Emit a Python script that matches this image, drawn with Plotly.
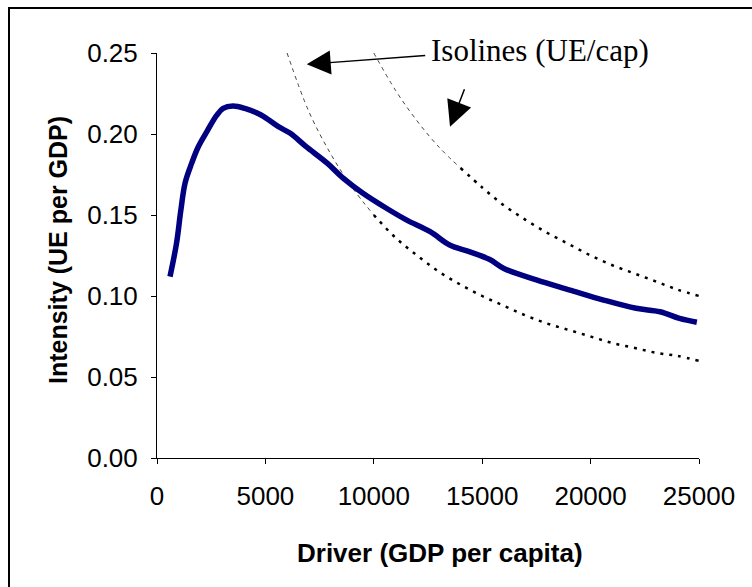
import plotly.graph_objects as go

# Intensity curve: UE per GDP against GDP per capita
driver = [600, 900, 1100, 1300, 1600, 1900, 2300, 2750, 3050, 3500, 4050, 4800,
          5600, 6150, 6850, 7850, 8600, 9500, 10600, 11500, 12600, 13500, 14400,
          15350, 16000, 17500, 19050, 20600, 22100, 23200, 24100, 24900]
intensity = [0.112, 0.1325, 0.153, 0.170, 0.182, 0.192, 0.2015, 0.2115, 0.2158,
             0.2173, 0.2158, 0.2117, 0.2045, 0.2004, 0.1925, 0.182, 0.1726, 0.1634,
             0.154, 0.147, 0.1397, 0.1315, 0.1274, 0.1225, 0.117, 0.110, 0.1037,
             0.0975, 0.0924, 0.0903, 0.0862, 0.0838]

# Isoline with lower UE/cap
iso_low_x = [6000, 7000, 8000, 9000, 10000, 11000, 12000, 13000, 14000, 15000,
             16000, 17000, 18000, 19000, 20000, 21000, 22000, 23000, 24000, 25000]
iso_low_y = [0.250, 0.214, 0.188, 0.167, 0.150, 0.136, 0.125, 0.115, 0.107, 0.100,
             0.094, 0.088, 0.083, 0.079, 0.075, 0.071, 0.068, 0.065, 0.063, 0.060]

# Isoline with higher UE/cap
iso_high_x = [10000, 11000, 12000, 13000, 14000, 15000, 16000, 17000, 18000,
              19000, 20000, 21000, 22000, 23000, 24000, 25000]
iso_high_y = [0.250, 0.227, 0.208, 0.192, 0.179, 0.167, 0.156, 0.147, 0.139,
              0.132, 0.125, 0.119, 0.114, 0.109, 0.104, 0.100]

x_ticks = [0, 5000, 10000, 15000, 20000, 25000]
y_ticks = [0.00, 0.05, 0.10, 0.15, 0.20, 0.25]

SANS = "Liberation Sans, Arial, sans-serif"
SERIF = "Liberation Serif, Times New Roman, serif"

fig = go.Figure()

# Each isoline: a fine dashed upper stretch, then a heavier dotted tail
for xs, ys, split in [(iso_low_x, iso_low_y, 4), (iso_high_x, iso_high_y, 4)]:
    fig.add_trace(go.Scatter(
        x=xs[:split + 1], y=ys[:split + 1], mode="lines", line_shape="spline",
        line=dict(color="#444444", width=1, dash="4px,4px"),
        showlegend=False, hoverinfo="skip"))
    fig.add_trace(go.Scatter(
        x=xs[split:], y=ys[split:], mode="lines", line_shape="spline",
        line=dict(color="black", width=2.5, dash="3px,6px"),
        showlegend=False, hoverinfo="skip"))

fig.add_trace(go.Scatter(
    x=driver, y=intensity, mode="lines", line_shape="spline",
    line=dict(color="#000080", width=5.5), showlegend=False))

L, R, T, B = 157, 53, 53, 129
W, H = 752, 587
pw, ph = W - L - R, H - T - B

def px_to_paper(px, py):
    return (px - L) / pw, (H - B - py) / ph

bx, by = px_to_paper(9, 8)

fig.update_layout(
    width=W, height=H,
    margin=dict(l=L, r=R, t=T, b=B, pad=0),
    paper_bgcolor="white", plot_bgcolor="white",
    font=dict(family=SANS, color="black", size=26),
    xaxis=dict(range=[0, 25000], tickvals=x_ticks, ticktext=[str(v) for v in x_ticks],
               showgrid=False, zeroline=False, showline=True, linecolor="black",
               linewidth=1, ticks="outside", ticklen=5, tickcolor="black",
               tickfont=dict(size=26, family=SANS), ticklabelstandoff=10),
    yaxis=dict(range=[0, 0.25], tickvals=y_ticks, ticktext=[f"{v:.2f}" for v in y_ticks],
               showgrid=False, zeroline=False, showline=True, linecolor="black",
               linewidth=1, ticks="outside", ticklen=5, tickcolor="black",
               tickfont=dict(size=26, family=SANS), ticklabelstandoff=8),
    shapes=[dict(type="rect", xref="paper", yref="paper",
                 x0=bx, x1=1.5, y0=-1, y1=by,
                 line=dict(color="black", width=2), layer="above")],
)

# Axis titles
tx, ty = px_to_paper(440, 553)
fig.add_annotation(text="<b>Driver (GDP per capita)</b>", xref="paper", yref="paper",
                   x=tx, y=ty, showarrow=False, xanchor="center", yanchor="middle",
                   font=dict(size=26, family=SANS))
tx, ty = px_to_paper(58, 250)
fig.add_annotation(text="<b>Intensity (UE per GDP)</b>", xref="paper", yref="paper",
                   x=tx, y=ty, showarrow=False, textangle=-90,
                   xanchor="center", yanchor="middle",
                   font=dict(size=25, family=SANS))

# Isolines label with arrows
tx, ty = px_to_paper(540, 50)
fig.add_annotation(text="Isolines (UE/cap)", xref="paper", yref="paper",
                   x=tx, y=ty, showarrow=False, xanchor="center", yanchor="middle",
                   font=dict(size=31, family=SERIF))
fig.add_annotation(text="", x=6906, y=0.2430, xref="x", yref="y",
                   ax=120, ay=-9, showarrow=True, arrowhead=2,
                   arrowsize=3.2, arrowwidth=1.5, arrowcolor="black")
fig.add_annotation(text="", x=13516, y=0.2045, xref="x", yref="y",
                   ax=15, ay=-39, showarrow=True, arrowhead=2,
                   arrowsize=3.4, arrowwidth=1.5, arrowcolor="black")

fig.write_html("out.html")
